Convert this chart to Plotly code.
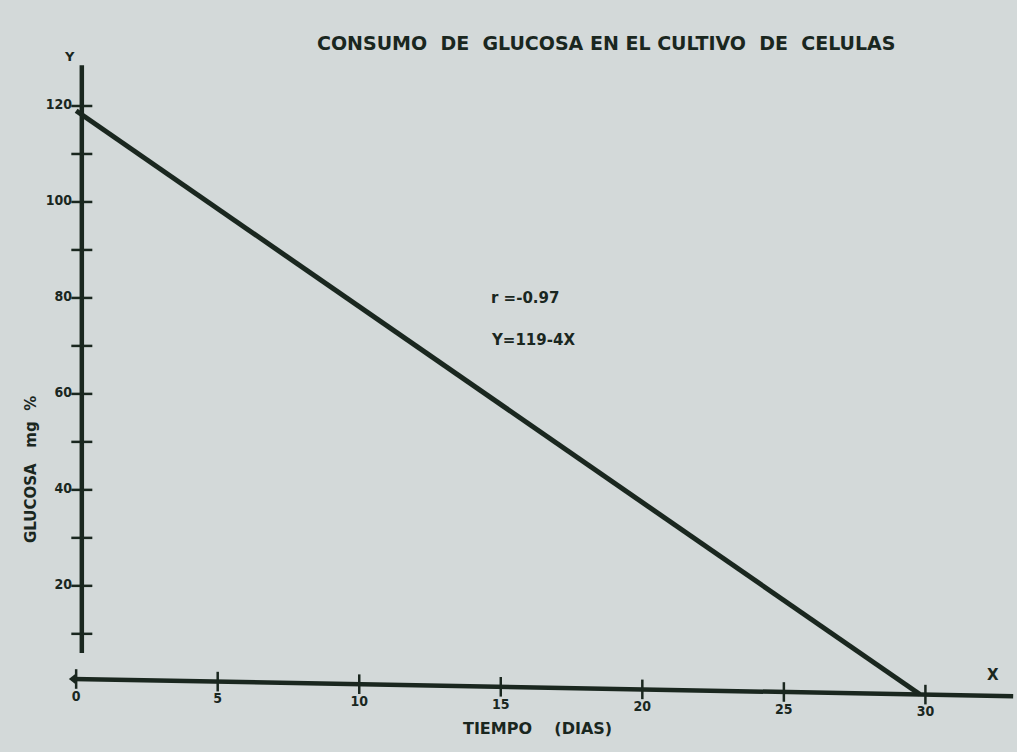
import plotly.graph_objects as go
import numpy as np

# ---- data ----
title_text = "CONSUMO\u00a0 DE\u00a0 GLUCOSA EN EL CULTIVO\u00a0 DE\u00a0 CELULAS"
x_title = "TIEMPO\u00a0\u00a0\u00a0 (DIAS)"
y_title = "GLUCOSA\u00a0\u00a0 mg\u00a0 %"
fit_x = [0, 29.8]          # regression line Y = 119 - 4X (as drawn)
fit_y = [119, -2.6]
xaxis_line_x = [-0.1, 33.1]   # hand-drawn x axis (slightly tilted in the scan)
xaxis_line_y = [0.6, -3.0]
yaxis_line_x = [0.2, 0.2]
yaxis_line_y = [6, 128.5]
y_ticks = [10, 20, 30, 40, 50, 60, 70, 80, 90, 100, 110, 120]
y_tick_labels = ["", "20", "", "40", "", "60", "", "80", "", "100", "", "120"]
x_ticks = [0, 5, 10, 15, 20, 25, 30]
x_tick_labels = ["0", "5", "10", "15", "20", "25", "30"]
stats_lines = ["r =-0.97", "Y=119-4X"]

ink = "#1a271f"
paper = "#d3d9d9"
font_cond = "DejaVu Sans Condensed, DejaVu Sans, sans-serif"
font_wide = "DejaVu Sans, sans-serif"

W, H = 1017, 752
L, R, T, B = 62, 1, 58, 27


def px_to_paper(px, py):
    return (px - L) / (W - L - R), (H - B - py) / (H - T - B)


fig = go.Figure()

# x axis line
fig.add_trace(go.Scatter(x=xaxis_line_x, y=xaxis_line_y, mode="lines", cliponaxis=False,
                         line=dict(color=ink, width=4.5), hoverinfo="skip"))
# left arrow head of x axis
fig.add_trace(go.Scatter(x=[xaxis_line_x[0]], y=[xaxis_line_y[0]], mode="markers",
                         cliponaxis=False,
                         marker=dict(symbol="triangle-left", size=9, color=ink),
                         hoverinfo="skip"))
# y axis line
fig.add_trace(go.Scatter(x=yaxis_line_x, y=yaxis_line_y, mode="lines", cliponaxis=False,
                         line=dict(color=ink, width=4.5), hoverinfo="skip"))
# y tick marks crossing the axis
fig.add_trace(go.Scatter(x=[yaxis_line_x[0]] * len(y_ticks), y=y_ticks, mode="markers",
                         cliponaxis=False,
                         marker=dict(symbol="line-ew", size=15,
                                     line=dict(color=ink, width=2.5)),
                         hoverinfo="skip"))
# x tick marks crossing the (tilted) axis
x_tick_y = np.interp(x_ticks, xaxis_line_x, xaxis_line_y)
fig.add_trace(go.Scatter(x=x_ticks, y=x_tick_y, mode="markers", cliponaxis=False,
                         marker=dict(symbol="line-ns", size=14,
                                     line=dict(color=ink, width=2.5)),
                         hoverinfo="skip"))
# regression line
fig.add_trace(go.Scatter(x=fit_x, y=fit_y, mode="lines", cliponaxis=False,
                         line=dict(color=ink, width=5), hoverinfo="skip"))

# y tick labels
fig.add_trace(go.Scatter(x=[-0.15] * len(y_ticks), y=y_ticks, mode="text", cliponaxis=False,
                         text=y_tick_labels, textposition="middle left",
                         textfont=dict(family=font_cond, size=14, color=ink, weight="bold"),
                         hoverinfo="skip"))
# x tick labels
fig.add_trace(go.Scatter(x=x_ticks, y=x_tick_y - 3.8, mode="text", cliponaxis=False,
                         text=x_tick_labels, textposition="middle center",
                         textfont=dict(family=font_cond, size=14, color=ink, weight="bold"),
                         hoverinfo="skip"))


def add_px_annotation(px, py, text, size, family=font_wide, **kw):
    ax, ay = px_to_paper(px, py)
    fig.add_annotation(x=ax, y=ay, xref="paper", yref="paper", text=text,
                       showarrow=False,
                       font=dict(size=size, family=family, color=ink, weight="bold"), **kw)


add_px_annotation(606, 30, title_text, 19)
add_px_annotation(62, 47, "Y", 13)
add_px_annotation(1001, 686, "X", 15)
add_px_annotation(537, 740, x_title, 16)
add_px_annotation(20, 470, y_title, 15, textangle=-90)

for txt, yv in zip(stats_lines, [80, 71.25]):
    fig.add_annotation(x=14.6, y=yv, text=txt, showarrow=False, xanchor="left",
                       font=dict(size=15, family=font_wide, color=ink, weight="bold"))

fig.update_layout(
    width=W, height=H,
    margin=dict(l=L, r=R, t=T, b=B),
    paper_bgcolor=paper, plot_bgcolor=paper,
    showlegend=False,
    xaxis=dict(range=[-0.5, 33.2], visible=False, fixedrange=True),
    yaxis=dict(range=[-9, 130], visible=False, fixedrange=True),
)

fig.write_html("out.html", config={"displayModeBar": False},
               post_script="document.body.style.margin='0';document.body.style.overflow='hidden';"
                           "document.body.style.background='" + paper + "';")
